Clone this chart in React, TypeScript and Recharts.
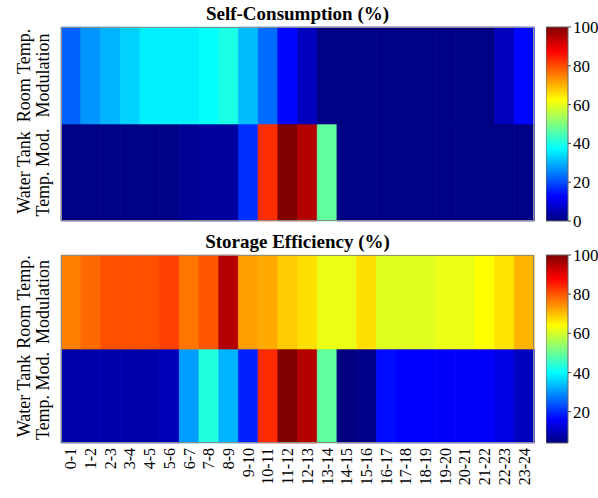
/**
 * Hourly heatmaps: self-consumption and storage efficiency
 * Two 2x24 jet-coloured grids with their colour bars
 */

import { BarChart, Bar, Cell, XAxis, YAxis } from 'recharts';

const hours = [
  '0-1', '1-2', '2-3', '3-4', '4-5', '5-6', '6-7', '7-8', '8-9', '9-10', '10-11', '11-12',
  '12-13', '13-14', '14-15', '15-16', '16-17', '17-18', '18-19', '19-20', '20-21', '21-22', '22-23', '23-24',
];

// Self-Consumption (%), colour range 0..100
const selfRoom = [22, 27, 30, 33, 36, 36, 36, 38, 40, 31, 23, 13, 6, 0.5, 0.5, 0.5, 0.5, 0.5, 0.5, 0.5, 0.5, 0.5, 6, 13];
const selfWater = [0.5, 0.5, 0.5, 0.5, 0.5, 0.5, 2, 3, 3, 17, 83, 100, 95, 47, 0.5, 0.5, 0.5, 0.5, 0.5, 0.5, 0.5, 0.5, 0.5, 0.5];

// Storage Efficiency (%), colour range 4..100
const storRoom = [76, 78, 80.5, 80.5, 80.5, 82, 77, 80, 95, 73, 72, 69, 67, 62, 62, 67, 61, 61, 61, 62, 62, 64, 66.5, 71];
const storWater = [8, 8, 8, 8, 8, 9.5, 31, 43, 33, 19, 84, 100, 95, 49, 4, 5, 17, 16, 16, 15.5, 15.5, 15.5, 13.5, 10];

const selfTicks = [0, 20, 40, 60, 80, 100];
const storTicks = [20, 40, 60, 80, 100];

const FONT = 'Liberation Serif, DejaVu Serif, serif';

function clamp(v: number) {
  return Math.max(0, Math.min(1, v));
}

// MATLAB-style jet colormap
function jet(t: number) {
  const r = clamp(1.5 - Math.abs(4 * t - 3));
  const g = clamp(1.5 - Math.abs(4 * t - 2));
  const b = clamp(1.5 - Math.abs(4 * t - 1));
  const h = (c: number) => Math.round(c * 255).toString(16).padStart(2, '0');
  return `#${h(r)}${h(g)}${h(b)}`;
}

const rowLabels: Record<string, [string, string]> = {
  '0.5': ['Water Tank', 'Temp. Mod.'],
  '1.5': ['Room Temp.', 'Modulation'],
};

function RowTick({ x, y, payload }: any) {
  const lines = rowLabels[String(payload.value)] || ['', ''];
  return (
    <g transform={`translate(0,${y}) rotate(-90)`}>
      <text x={0} y={x - 31} textAnchor="middle" style={{ fontFamily: FONT }} fontSize={18} fill="#000">
        {lines[0]}
      </text>
      <text x={0} y={x - 12} textAnchor="middle" style={{ fontFamily: FONT }} fontSize={18} fill="#000">
        {lines[1]}
      </text>
    </g>
  );
}

function HourTick({ x, y, payload }: any) {
  return (
    <g transform={`translate(${x},${y}) rotate(-90)`}>
      <text x={0} y={0} dy="0.34em" textAnchor="end" style={{ fontFamily: FONT }} fontSize={16} fill="#000">
        {payload.value}
      </text>
    </g>
  );
}

interface HeatmapProps {
  id: string;
  title: string;
  room: number[];
  water: number[];
  cmin: number;
  cmax: number;
  ticks: number[];
  top: number;
  bottom: number;
  showHours: boolean;
}

function Heatmap({ id, title, room, water, cmin, cmax, ticks, top, bottom, showHours }: HeatmapProps) {
  const data = hours.map((hour, i) => ({ hour, water: 1, room: 1, w: water[i], r: room[i] }));
  const color = (v: number) => jet((v - cmin) / (cmax - cmin));
  const height = showHours ? 498 : bottom + 7;
  const stops = Array.from({ length: 65 }, (_, i) => i / 64);

  return (
    <>
      <div
        style={{
          position: 'absolute',
          left: 61,
          width: 473,
          top: top - 23,
          textAlign: 'center',
          fontFamily: FONT,
          fontWeight: 'bold',
          fontSize: 19,
          lineHeight: '20px',
        }}
      >
        {title}
      </div>
      <div style={{ position: 'absolute', left: 0, top: 0 }}>
        <BarChart
          width={540}
          height={height}
          data={data}
          margin={{ top, right: 6, bottom: height - bottom - (showHours ? 55 : 0), left: 0 }}
          barCategoryGap={0}
          barGap={0}
        >
          <XAxis
            dataKey="hour"
            hide={!showHours}
            height={55}
            interval={0}
            axisLine={false}
            tickLine={false}
            tickSize={0}
            tickMargin={5}
            tick={<HourTick />}
          />
          <YAxis
            type="number"
            domain={[0, 2]}
            ticks={[0.5, 1.5]}
            width={61}
            axisLine={false}
            tickLine={false}
            tickSize={0}
            tickMargin={0}
            tick={<RowTick />}
          />
          <Bar dataKey="water" stackId="s" isAnimationActive={false}>
            {data.map((d, i) => (
              <Cell key={`w-${i}`} fill={color(d.w)} stroke={color(d.w)} strokeWidth={0.6} />
            ))}
          </Bar>
          <Bar dataKey="room" stackId="s" isAnimationActive={false}>
            {data.map((d, i) => (
              <Cell key={`r-${i}`} fill={color(d.r)} stroke={color(d.r)} strokeWidth={0.6} />
            ))}
          </Bar>
        </BarChart>
      </div>
      <div
        style={{
          position: 'absolute',
          left: 61,
          top,
          width: 473,
          height: bottom - top,
          boxSizing: 'border-box',
          border: '1px solid #8c8c8c',
          pointerEvents: 'none',
        }}
      />
      <div style={{ position: 'absolute', left: 546, top: 0 }}>
        <BarChart
          width={52}
          height={bottom + 10}
          data={[{ name: 'bar', range: [cmin, cmax] }]}
          margin={{ top, right: 0, bottom: 10, left: 0 }}
          barCategoryGap={0}
          style={{ overflow: 'visible' }}
        >
          <defs>
            <linearGradient id={`jet-${id}`} x1="0" y1="1" x2="0" y2="0">
              {stops.map((s) => (
                <stop key={s} offset={s} stopColor={jet(s)} />
              ))}
            </linearGradient>
          </defs>
          <XAxis dataKey="name" hide />
          <YAxis
            type="number"
            orientation="right"
            domain={[cmin, cmax]}
            ticks={ticks}
            width={30}
            axisLine={false}
            tickSize={3}
            tickMargin={2}
            tickLine={{ stroke: '#444' }}
            tick={{ style: { fontFamily: FONT }, fontSize: 17, fill: '#000' }}
          />
          <Bar dataKey="range" fill={`url(#jet-${id})`} stroke="#666" strokeWidth={1} isAnimationActive={false} />
        </BarChart>
      </div>
    </>
  );
}

export default function App() {
  return (
    <div style={{ position: 'relative', width: 598, height: 498, background: '#fff', overflow: 'hidden' }}>
      <style>{'body{margin:0}'}</style>
      <Heatmap
        id="self"
        title="Self-Consumption (%)"
        room={selfRoom}
        water={selfWater}
        cmin={0}
        cmax={100}
        ticks={selfTicks}
        top={27}
        bottom={221}
        showHours={false}
      />
      <Heatmap
        id="stor"
        title="Storage Efficiency (%)"
        room={storRoom}
        water={storWater}
        cmin={4}
        cmax={100}
        ticks={storTicks}
        top={255}
        bottom={443}
        showHours
      />
    </div>
  );
}
